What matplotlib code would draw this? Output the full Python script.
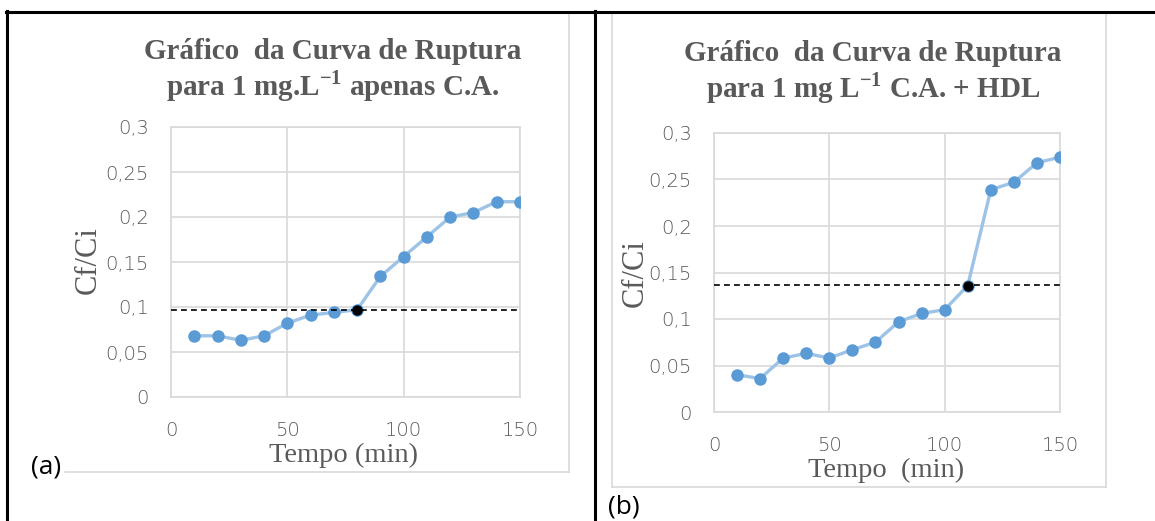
import matplotlib.pyplot as plt
from matplotlib.lines import Line2D
from matplotlib.ticker import FuncFormatter, MultipleLocator

# tempo (min)
tempo = [10, 20, 30, 40, 50, 60, 70, 80, 90, 100, 110, 120, 130, 140, 150]

# Cf/Ci - apenas C.A.
cfci_a = [0.068, 0.068, 0.063, 0.068, 0.082, 0.091, 0.094, 0.097,
          0.134, 0.156, 0.178, 0.200, 0.205, 0.217, 0.217]
ruptura_a = 80
limite_a = 0.097

# Cf/Ci - C.A. + HDL
cfci_b = [0.040, 0.036, 0.058, 0.063, 0.058, 0.067, 0.075, 0.097,
          0.106, 0.110, 0.136, 0.239, 0.247, 0.268, 0.274]
ruptura_b = 110
limite_b = 0.137

titulo_a = "Gráfico  da Curva de Ruptura\npara 1 mg.L$^{\\mathbf{-1}}$ apenas C.A."
titulo_b = "Gráfico  da Curva de Ruptura\npara 1 mg L$^{\\mathbf{-1}}$ C.A. + HDL"

W, H = 1155, 521
GREY = "#595959"

plt.rcParams['mathtext.fontset'] = 'custom'
plt.rcParams['mathtext.rm'] = 'Liberation Serif'
plt.rcParams['mathtext.bf'] = 'Liberation Serif:bold'

fig = plt.figure(figsize=(W / 100, H / 100), dpi=100)


def fx(x):
    return x / W


def fy(y):
    return 1 - y / H


def hline(x0, x1, y, color, lw):
    fig.add_artist(Line2D([fx(x0), fx(x1)], [fy(y), fy(y)], color=color, lw=lw,
                          transform=fig.transFigure))


def vline(x, y0, y1, color, lw):
    fig.add_artist(Line2D([fx(x), fx(x)], [fy(y0), fy(y1)], color=color, lw=lw,
                          transform=fig.transFigure))


def comma(v, pos):
    return f"{v:g}".replace(".", ",")


def make_panel(box, y, ruptura, limite, titulo, title_xy, xlab, xlab_xy, ylab_xy):
    l, t, r, b = box
    ax = fig.add_axes([fx(l), fy(b), fx(r) - fx(l), (b - t) / H])
    ax.plot(tempo, y, color="#9DC3E6", lw=2.4, marker="o", ms=8,
            mfc="#5B9BD5", mec="#5B9BD5", zorder=3)
    i = tempo.index(ruptura)
    ax.plot([ruptura], [y[i]], "o", color="black", ms=6.5, zorder=4)
    ax.plot([0, 150], [limite, limite], color="black", lw=1.2,
            ls=(0, (3.5, 2.5)), zorder=5)
    ax.set_xlim(0, 150)
    ax.set_ylim(0, 0.3)
    ax.xaxis.set_major_locator(MultipleLocator(50))
    ax.yaxis.set_major_locator(MultipleLocator(0.05))
    ax.yaxis.set_major_formatter(FuncFormatter(comma))
    ax.grid(True, color="#D9D9D9", lw=1.2)
    ax.set_axisbelow(True)
    for s in ax.spines.values():
        s.set_color("#D9D9D9")
        s.set_linewidth(1.2)
    ax.tick_params(length=0, labelcolor=GREY, labelsize=14)
    ax.tick_params(axis="y", pad=16)
    ax.tick_params(axis="x", pad=17)
    for lab in ax.get_xticklabels() + ax.get_yticklabels():
        lab.set_fontweight("light")
    fig.text(fx(title_xy[0]), fy(title_xy[1]), titulo, ha="center", va="center",
             family="Liberation Serif", weight="bold", size=21, color=GREY,
             linespacing=1.15)
    fig.text(fx(xlab_xy[0]), fy(xlab_xy[1]), xlab, ha="center", va="center",
             family="Liberation Serif", size=20.5, color=GREY)
    fig.text(fx(ylab_xy[0]), fy(ylab_xy[1]), "Cf/Ci", ha="center", va="center",
             family="Liberation Serif", size=22, color=GREY, rotation=90)
    return ax


make_panel((171, 127, 520, 397), cfci_a, ruptura_a, limite_a, titulo_a,
           (333, 71), "Tempo (min)", (343, 455), (88, 260))
make_panel((714, 133, 1060, 412), cfci_b, ruptura_b, limite_b, titulo_b,
           (873, 73), "Tempo  (min)", (886, 470), (635, 273))

# chart frames (light grey)
hline(65, 569, 472, "#D9D9D9", 1.2)
vline(569, 12, 472, "#D9D9D9", 1.2)
hline(612, 1106, 487, "#D9D9D9", 1.2)
vline(612, 12, 487, "#D9D9D9", 1.2)
vline(1106, 12, 487, "#D9D9D9", 1.2)

# table borders
hline(6, W, 12, "black", 2.2)
vline(7, 11, H, "black", 2.2)
vline(595, 11, H, "black", 2.2)

fig.text(fx(31), fy(467), "(a)", ha="left", va="center", family="Open Sans",
         size=19, color="black")
fig.text(fx(608), fy(520), "(b)", ha="left", va="bottom", family="Open Sans",
         size=19, color="black")

fig.savefig("out.png", dpi=100)
